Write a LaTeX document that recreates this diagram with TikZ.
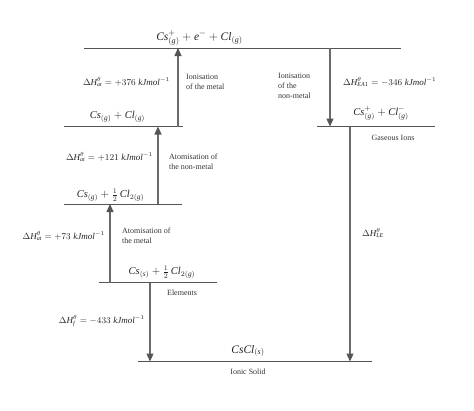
\documentclass[tikz,border=0pt]{standalone}
\usepackage{fontspec}
\setmainfont{Liberation Serif}
\usetikzlibrary{arrows.meta}
\definecolor{lvl}{HTML}{555555}
\definecolor{arrc}{HTML}{6A6A6A}
\definecolor{txt}{HTML}{222222}
\definecolor{notec}{HTML}{333333}
\newcommand\ci[1]{\mathit{#1}}
\begin{document}
\begin{tikzpicture}[x=1pt,y=-1pt,
 level/.style={draw=lvl, line width=0.9pt},
 arr/.style={draw=arrc, line width=1.1pt, -{Triangle[width=7pt,length=8pt,color=lvl]}},
 big/.style={font=\fontsize{11.5}{13}\selectfont, inner sep=0, text=txt},
 med/.style={font=\fontsize{10.5}{12}\selectfont, inner sep=0, text=txt},
 dh/.style={font=\fontsize{9}{10}\selectfont, inner sep=0, text=txt},
 note/.style={font=\fontsize{8}{10}\selectfont, inner sep=0, align=left, text=notec},
]
\useasboundingbox (0,0) rectangle (474,410);
% levels
\draw[level] (84,48) coordinate (L1a) -- (401,48) coordinate (L1b);
\draw[level] (64,126.5) coordinate (L2a) -- (183,126.5) coordinate (L2b);
\draw[level] (317,126.5) coordinate (L3a) -- (435,126.5) coordinate (L3b);
\draw[level] (64,204) coordinate (L4a) -- (182,204) coordinate (L4b);
\draw[level] (99,282.5) coordinate (L5a) -- (217,282.5) coordinate (L5b);
\draw[level] (138,361.5) coordinate (L6a) -- (372,361.5) coordinate (L6b);
% arrow end points
\coordinate (a1s) at (178,126.5); \coordinate (a1e) at (178,48);
\coordinate (a2s) at (158,204);   \coordinate (a2e) at (158,126.5);
\coordinate (a3s) at (110,282.5); \coordinate (a3e) at (110,204);
\coordinate (a4s) at (150,282.5); \coordinate (a4e) at (150,361.5);
\coordinate (a5s) at (330,48);    \coordinate (a5e) at (330,126.5);
\coordinate (a6s) at (350,126.5); \coordinate (a6e) at (350,361.5);
\draw[arr] (a1s) -- (a1e);
\draw[arr] (a2s) -- (a2e);
\draw[arr] (a3s) -- (a3e);
\draw[arr] (a4s) -- (a4e);
\draw[arr] (a5s) -- (a5e);
\draw[arr] (a6s) -- (a6e);
% species labels
\node[big] (top) at (199.5,38) {$\ci{Cs}^{+}_{(\ci{g})}+\ci{e}^{-}+\ci{Cl}_{(\ci{g})}$};
\node[med] (gas) at (117.5,117) {$\ci{Cs}_{(\ci{g})}+\ci{Cl}_{(\ci{g})}$};
\node[med] (ions) at (381,113) {$\ci{Cs}^{+}_{(\ci{g})}+\ci{Cl}^{-}_{(\ci{g})}$};
\node[med] (half) at (110.5,195) {$\ci{Cs}_{(\ci{g})}+\frac{1}{2}\,\ci{Cl}_{2(\ci{g})}$};
\node[med] (elem) at (162,272) {$\ci{Cs}_{(\ci{s})}+\frac{1}{2}\,\ci{Cl}_{2(\ci{g})}$};
\node[big] (cscl) at (248,351) {$\ci{CsCl}_{(\ci{s})}$};
% enthalpy labels
\node[dh, anchor=east] (h376) at (170,82) {$\Delta \ci{H}^{\theta}_{\ci{at}}=+376\;\ci{kJmol}^{-1}$};
\node[dh, anchor=west] (hea) at (343,82) {$\Delta \ci{H}^{\theta}_{\ci{EA}1}=-346\;\ci{kJmol}^{-1}$};
\node[dh, anchor=east] (h121) at (153,157) {$\Delta \ci{H}^{\theta}_{\ci{at}}=+121\;\ci{kJmol}^{-1}$};
\node[dh, anchor=east] (h73) at (105,236) {$\Delta \ci{H}^{\theta}_{\ci{at}}=+73\;\ci{kJmol}^{-1}$};
\node[dh, anchor=east] (hf) at (145,321) {$\Delta \ci{H}^{\theta}_{\ci{f}}=-433\;\ci{kJmol}^{-1}$};
\node[dh, anchor=west] (hle) at (362,233) {$\Delta \ci{H}^{\theta}_{\ci{LE}}$};
% notes
\node[note, anchor=west] (n1) at (186,82) {Ionisation\\of the metal};
\node[note, anchor=west] (n2) at (278,86) {Ionisation\\of the\\non-metal};
\node[note] (n3) at (393,138) {Gaseous Ions};
\node[note, anchor=west] (n4) at (169,162) {Atomisation of\\the non-metal};
\node[note, anchor=west] (n5) at (122,236) {Atomisation of\\the metal};
\node[note] (n6) at (182,293) {Elements};
\node[note] (n7) at (248,372) {Ionic Solid};
\end{tikzpicture}
\end{document}
